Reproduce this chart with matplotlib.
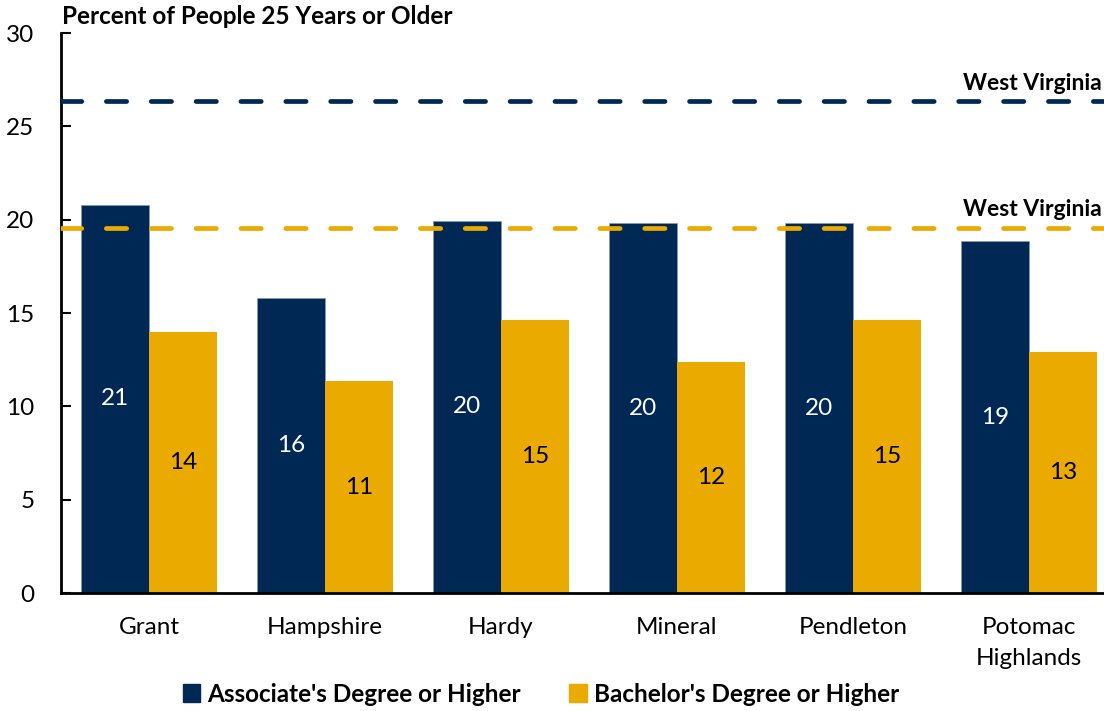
import matplotlib.pyplot as plt
import numpy as np
from matplotlib.patches import Patch

plt.rcParams['font.family'] = ['Lato', 'DejaVu Sans']

counties = ["Grant", "Hampshire", "Hardy", "Mineral", "Pendleton", "Potomac\nHighlands"]
associate = [20.8, 15.8, 19.95, 19.8, 19.8, 18.85]
bachelor = [14.0, 11.35, 14.65, 12.35, 14.6, 12.9]
associate_labels = ["21", "16", "20", "20", "20", "19"]
bachelor_labels = ["14", "11", "15", "12", "15", "13"]
wv_associate = 26.35
wv_bachelor = 19.55

NAVY = "#002855"
GOLD = "#EAAA00"
FS = 17.5

fig = plt.figure(figsize=(11.04, 7.11), dpi=100)
ax = fig.add_axes([61 / 1104, 118 / 711, 1056 / 1104, 560 / 711])

x = np.arange(len(counties))
w = 0.384
ax.bar(x - w / 2, associate, w, color=NAVY, edgecolor="#8a9bb0", linewidth=0.5, zorder=2)
ax.bar(x + w / 2, bachelor, w, color=GOLD, zorder=2)

# value labels in the middle of each bar
for i in range(len(counties)):
    ax.text(x[i] - w / 2, associate[i] / 2, associate_labels[i], ha="center", va="center",
            color="white", fontsize=FS)
    ax.text(x[i] + w / 2, bachelor[i] / 2, bachelor_labels[i], ha="center", va="center",
            color="black", fontsize=FS)

# state reference lines
for val, col in [(wv_associate, NAVY), (wv_bachelor, GOLD)]:
    ln, = ax.plot([-0.5, 5.5], [val, val], color=col, lw=3.4, zorder=3,
                  dash_capstyle="round")
    ln.set_dashes((4.3, 5.2))
fig.text(1102 / 1104, 1 - 84 / 711, "West Virginia", ha="right", va="center",
         fontsize=16.5, fontweight="bold")
fig.text(1102 / 1104, 1 - 210 / 711, "West Virginia", ha="right", va="center",
         fontsize=16.5, fontweight="bold")

ax.set_xlim(-0.5, 5.5)
ax.set_ylim(0, 30)
ax.set_yticks(range(0, 31, 5))
ax.set_xticks(x)
ax.set_xticklabels(counties, fontsize=FS, linespacing=1.6)
ax.tick_params(axis="x", length=0, pad=17)
ax.tick_params(axis="y", direction="in", length=7, width=1.5, labelsize=FS, pad=19)
ax.spines["top"].set_visible(False)
ax.spines["right"].set_visible(False)
ax.spines["left"].set_linewidth(2)
ax.spines["bottom"].set_linewidth(2)

fig.text(62 / 1104, 1 - 17 / 711, "Percent of People 25 Years or Older", ha="left", va="center",
         fontsize=FS, fontweight="bold")

handles = [Patch(color=NAVY, label="Associate's Degree or Higher"),
           Patch(color=GOLD, label="Bachelor's Degree or Higher")]
fig.legend(handles=handles, loc="center", bbox_to_anchor=(541 / 1104, 1 - 694 / 711), ncol=2,
           frameon=False, prop={"size": FS, "weight": "bold"}, handlelength=0.7, handleheight=0.7,
           handletextpad=0.3, columnspacing=2.0)

fig.savefig("out.png", dpi=100)
